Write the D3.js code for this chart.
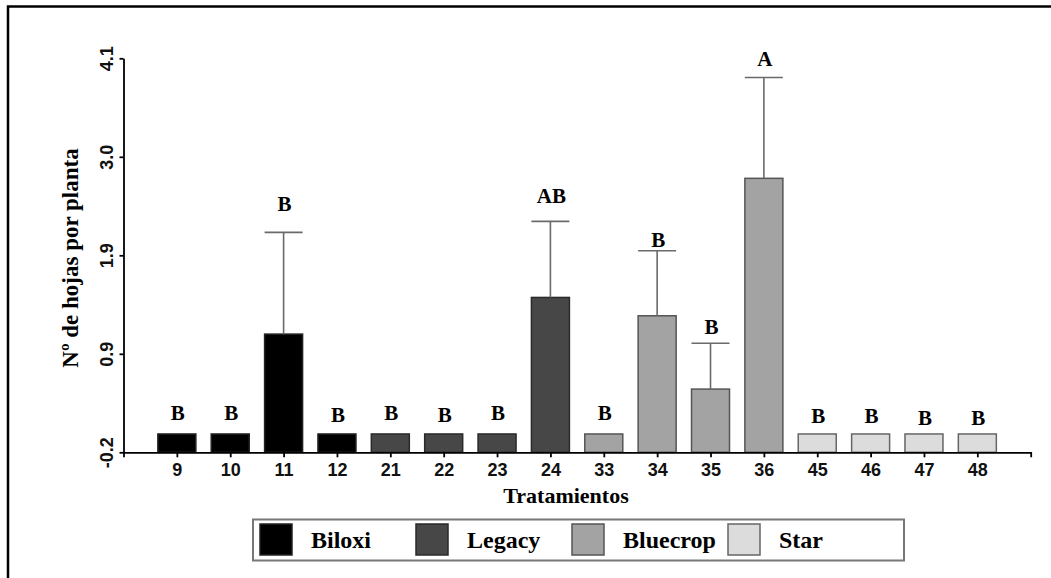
<!DOCTYPE html>
<html><head><meta charset="utf-8">
<script src="https://cdn.jsdelivr.net/npm/d3@7/dist/d3.min.js"></script>
<style>body{margin:0;background:#fff}svg{display:block}</style>
</head><body>
<svg id="c" width="1051" height="578"></svg>
<script>
const categories = ["9","10","11","12","21","22","23","24","33","34","35","36","45","46","47","48"];
const cultivars = ["Biloxi","Biloxi","Biloxi","Biloxi","Legacy","Legacy","Legacy","Legacy","Bluecrop","Bluecrop","Bluecrop","Bluecrop","Star","Star","Star","Star"];
const means = [0,0,1.09,0,0,0,0,1.49,0,1.29,0.49,2.79,0,0,0,0];
const errors = [0,0,1.11,0,0,0,0,0.83,0,0.71,0.50,1.10,0,0,0,0];
const letters = ["B","B","B","B","B","B","B","AB","B","B","B","A","B","B","B","B"];
const letterAt = [0.15,0.15,2.43,0.13,0.15,0.13,0.15,2.52,0.15,2.04,1.09,4.02,0.12,0.12,0.10,0.10];
const yTickLabels = ["-0.2","0.9","1.9","3.0","4.1"];
const legendNames = ["Biloxi","Legacy","Bluecrop","Star"];
const legendColors = ["#000000","#474747","#a3a3a3","#dcdcdc"];
const legendStrokes = ["#222222","#2a2a2a","#555555","#666666"];

const svg = d3.select("#c");
const serif = "'Liberation Serif','Times New Roman',serif";
const sans = "'Liberation Sans',Arial,sans-serif";

// frame (left + top visible)
svg.append("rect").attr("x",8).attr("y",6.5).attr("width",1200).attr("height",800)
  .attr("fill","none").attr("stroke","#000").attr("stroke-width",2.5);

const x = d3.scalePoint().domain(categories).range([123.5,1030.7]).padding(1);
const y = d3.scaleLinear().domain([-0.2,4.1]).range([452.3,58.3]);
const color = d3.scaleOrdinal().domain(legendNames).range(legendColors);
const stroke = d3.scaleOrdinal().domain(legendNames).range(legendStrokes);
const bw = 38;

const yTicks = yTickLabels.map((_,i)=> -0.2 + i*(4.3/(yTickLabels.length-1)));

// bars
svg.append("g").selectAll("rect").data(categories).join("rect")
  .attr("x",(d)=>x(d)-bw/2)
  .attr("y",(d,i)=>y(means[i]))
  .attr("width",bw)
  .attr("height",(d,i)=>y(-0.2)-y(means[i]))
  .attr("fill",(d,i)=>color(cultivars[i]))
  .attr("stroke",(d,i)=>stroke(cultivars[i]))
  .attr("stroke-width",1.5);

// error bars
const eg = svg.append("g").attr("stroke","#6a6a6a").attr("stroke-width",1.6);
categories.forEach((c,i)=>{
  if(errors[i]>0){
    eg.append("line").attr("x1",x(c)).attr("x2",x(c)).attr("y1",y(means[i])).attr("y2",y(means[i]+errors[i]));
    eg.append("line").attr("x1",x(c)-bw/2).attr("x2",x(c)+bw/2).attr("y1",y(means[i]+errors[i])).attr("y2",y(means[i]+errors[i]));
  }
});

// letters
svg.append("g").selectAll("text").data(categories).join("text")
  .attr("x",d=>x(d)+1).attr("y",(d,i)=>y(letterAt[i]))
  .attr("text-anchor","middle")
  .attr("font-family",serif).attr("font-weight","bold").attr("font-size",21)
  .text((d,i)=>letters[i]);

// x axis
const xAxis = svg.append("g").attr("transform",`translate(0,${y(-0.2)})`)
  .call(d3.axisBottom(x).tickSize(5).tickSizeOuter(5));
xAxis.selectAll("path,line").attr("stroke","#000").attr("stroke-width",1.8);
xAxis.selectAll("text").attr("font-family",sans).attr("font-weight","bold").attr("font-size",18)
  .attr("fill","#111").attr("dy",0).attr("y",23.5);

// y axis
const yAxis = svg.append("g").attr("transform",`translate(123.5,0)`)
  .call(d3.axisLeft(y).tickValues(yTicks).tickFormat((d,i)=>yTickLabels[i]).tickSize(4).tickSizeOuter(0));
yAxis.selectAll("path,line").attr("stroke","#000").attr("stroke-width",1.8);
yAxis.selectAll("text").attr("font-family",sans).attr("font-weight","bold").attr("font-size",18)
  .attr("fill","#111").attr("text-anchor","middle").attr("dy",0).attr("x",0)
  .attr("transform","translate(-11,0) rotate(-90)");

// axis titles
svg.append("text").attr("transform","translate(78,258) rotate(-90)")
  .attr("text-anchor","middle").attr("font-family",serif).attr("font-weight","bold").attr("font-size",23)
  .text("Nº de hojas por planta");
svg.append("text").attr("x",566).attr("y",503)
  .attr("text-anchor","middle").attr("font-family",serif).attr("font-weight","bold").attr("font-size",22)
  .text("Tratamientos");

// legend
const lg = svg.append("g");
lg.append("rect").attr("x",253).attr("y",519.5).attr("width",651).attr("height",41)
  .attr("fill","#fff").attr("stroke","#777").attr("stroke-width",2);
legendNames.forEach((n,i)=>{
  const x0 = 260 + i*156;
  lg.append("rect").attr("x",x0).attr("y",524).attr("width",32).attr("height",31)
    .attr("fill",legendColors[i]).attr("stroke",legendStrokes[i]).attr("stroke-width",1.5);
  lg.append("text").attr("x",x0+51).attr("y",548)
    .attr("font-family",serif).attr("font-weight","bold").attr("font-size",24).text(n);
});
</script>
</body></html>
